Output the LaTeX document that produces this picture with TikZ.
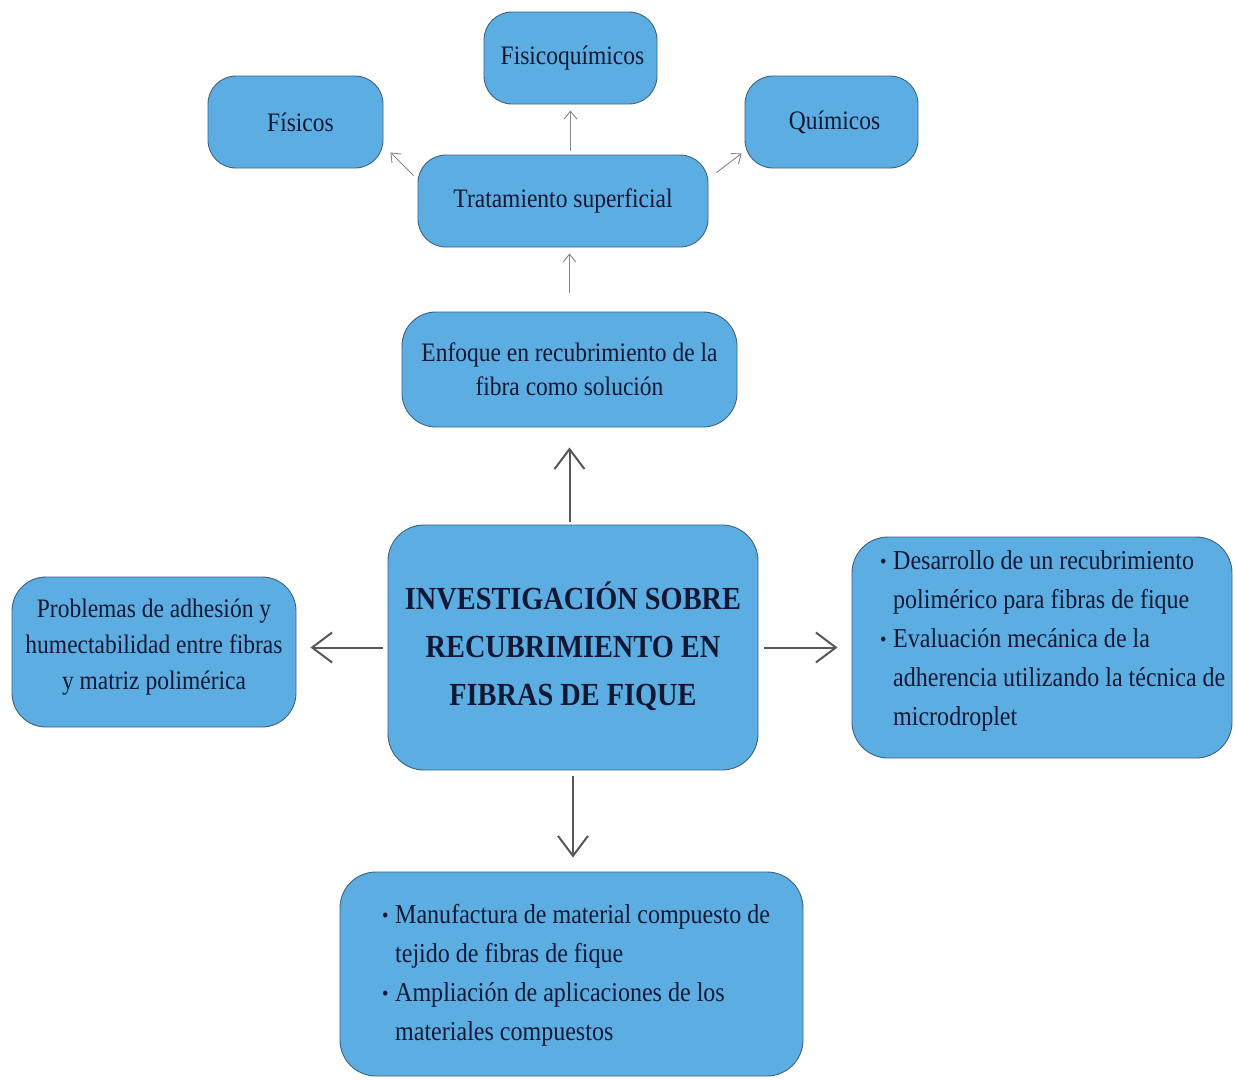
\documentclass[tikz,border=0pt]{standalone}
\usepackage{fontspec}
\setmainfont{Liberation Serif}[FakeStretch=0.88]
\usetikzlibrary{arrows.meta,calc}
\definecolor{boxfill}{RGB}{92,174,226}
\definecolor{boxline}{RGB}{62,98,128}
\definecolor{txtcol}{RGB}{18,24,52}
\definecolor{bigarrcol}{RGB}{88,88,88}
\definecolor{smallarrcol}{RGB}{135,135,135}
\tikzset{
  box/.style={draw=boxline, line width=0.9pt, fill=boxfill, rounded corners=#1, inner sep=0pt, text=txtcol, align=center},
  box/.default=28pt,
  normtxt/.style={font=\fontsize{26.7}{34}\selectfont},
  bigarr/.style={draw=bigarrcol, line width=2pt, -{Straight Barb[length=20pt,width=30pt,line width=2pt]}},
  smallarr/.style={draw=smallarrcol, line width=0.9pt, -{Straight Barb[length=8pt,width=13pt,line width=0.9pt]}},
  listtxt/.style={text=txtcol, align=left, inner sep=0pt, font=\fontsize{27.3}{39}\selectfont}
}
\newcommand{\bul}{\makebox[13pt][l]{\raisebox{1pt}{\fontsize{21}{21}\selectfont •}}}
\newcommand{\ind}{\hspace*{13pt}}
\begin{document}
\begin{tikzpicture}[x=1pt,y=-1pt]
\useasboundingbox (0,0) rectangle (1235,1080);
\fill[white] (0,0) rectangle (1235,1080);

\node[box, normtxt, minimum width=175pt, minimum height=92pt] (fis) at (295.5,122) {\hspace*{10pt}Físicos};
\node[box, normtxt, minimum width=173pt, minimum height=92pt] (fq) at (570.5,58) {\hspace*{4pt}Fisicoquímicos};
\node[box, normtxt, minimum width=173pt, minimum height=92pt] (qui) at (831.5,122) {\hspace*{6pt}Químicos};
\node[box, normtxt, minimum width=290pt, minimum height=92pt] (tra) at (563,201) {Tratamiento superficial};
\node[box=34pt, normtxt, minimum width=335pt, minimum height=115pt] (enf) at (569.5,369.5) {Enfoque en recubrimiento de la\\fibra como solución};
\node[box=36pt, font=\bfseries\fontsize{32.2}{48}\selectfont, minimum width=370pt, minimum height=245pt] (ctr) at (573,647.5) {INVESTIGACIÓN SOBRE\\RECUBRIMIENTO EN\\FIBRAS DE FIQUE\\[-40pt]};
\node[box=34pt, font=\fontsize{26.7}{36}\selectfont, minimum width=284pt, minimum height=150pt] (lft) at (154,652) {Problemas de adhesión y\\humectabilidad entre fibras\\y matriz polimérica\\[-20pt]};
\node[box=36pt, minimum width=380pt, minimum height=221pt] (rgt) at (1042,647.5) {};
\node[box=36pt, minimum width=463pt, minimum height=204pt] (bot) at (571.5,974) {};

\node[listtxt, anchor=west] (rgttxt) at (880,641) {\bul Desarrollo de un recubrimiento\\\ind polimérico para fibras de fique\\\bul Evaluación mecánica de la\\\ind adherencia utilizando la técnica de\\\ind microdroplet};
\node[listtxt, anchor=west] (bottxt) at (382,975) {\bul Manufactura de material compuesto de\\\ind tejido de fibras de fique\\\bul Ampliación de aplicaciones de los\\\ind materiales compuestos};

% big arrows
\draw[bigarr, shorten <=3pt, shorten >=20pt] (ctr.north -| enf.south) -- (enf.south);
\draw[bigarr, shorten <=5pt, shorten >=14pt] (ctr.west) -- (ctr.west -| lft.east);
\draw[bigarr, shorten <=6pt, shorten >=14pt] (ctr.east) -- (ctr.east -| rgt.west);
\draw[bigarr, shorten <=6pt, shorten >=14pt] (ctr.south) -- (ctr.south |- bot.north);

% small arrows
\draw[smallarr, shorten <=4pt, shorten >=6pt] (tra.north -| fq.south) -- (fq.south);
\draw[smallarr, shorten <=19pt, shorten >=6pt] (enf.north) -- (enf.north |- tra.south);
\draw[smallarr] ([shift={(-4,21)}]tra.north west) -- ([shift={(7,-16)}]fis.south east);
\draw[smallarr] ([shift={(8,18)}]tra.north east) -- ([shift={(-3,-15)}]qui.south west);
\end{tikzpicture}
\end{document}
